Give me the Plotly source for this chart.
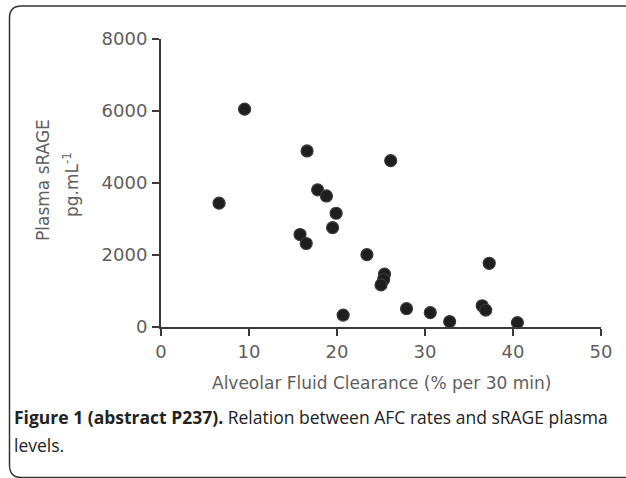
import plotly.graph_objects as go

# Data
afc = [6.6, 9.5, 16.6, 26.1, 17.8, 18.8, 19.9, 19.5, 15.8, 16.5, 23.4,
       25.4, 25.3, 25.0, 20.7, 27.9, 30.6, 32.8, 37.3, 36.5, 36.9, 40.5]
srage = [3440, 6050, 4890, 4620, 3810, 3640, 3160, 2760, 2570, 2320, 2010,
         1470, 1320, 1170, 330, 510, 400, 150, 1770, 590, 470, 120]

x_ticks = [0, 10, 20, 30, 40, 50]
y_ticks = [0, 2000, 4000, 6000, 8000]

# plot area in pixels
L, R, T, B = 161, 601, 39, 327
W, H = 626, 478
pw, ph = R - L, B - T


def px(x):
    return (x - L) / pw


def py(y):
    return (B - y) / ph


GRAY = "#5e5e5e"
AXFONT = "DejaVu Sans, Arial, sans-serif"

fig = go.Figure()
fig.add_trace(go.Scatter(
    x=afc, y=srage, mode="markers",
    marker=dict(size=12, color="#1e1e1e", line=dict(width=1.2, color="#3a3a3a")),
    cliponaxis=False, showlegend=False, hoverinfo="x+y",
))

axis_common = dict(
    showline=True, linewidth=2, linecolor="#3a3a3a",
    ticks="outside", ticklen=7, tickwidth=2, tickcolor="#3a3a3a",
    showgrid=False, zeroline=False,
    tickfont=dict(family=AXFONT, size=18, color=GRAY),
)

fig.update_xaxes(range=[0, 50], tickvals=x_ticks, ticktext=[str(v) for v in x_ticks], **axis_common)
fig.update_yaxes(range=[0, 8000], tickvals=y_ticks, ticktext=[str(v) for v in y_ticks],
                 ticklabelstandoff=1, **axis_common)

# rounded frame (open on the right)
x0, y0 = px(9.5), py(6)
x1 = px(660)
y1 = py(477.5)
rx, ry = 12 / pw, 12 / ph
path = (f"M {x1} {y0} L {x0 + rx} {y0} Q {x0} {y0} {x0} {y0 - ry} "
        f"L {x0} {y1 + ry} Q {x0} {y1} {x0 + rx} {y1} L {x1} {y1}")

fig.update_layout(
    width=W, height=H,
    margin=dict(l=L, r=W - R, t=T, b=H - B),
    paper_bgcolor="white", plot_bgcolor="white",
    shapes=[dict(type="path", xref="paper", yref="paper", path=path,
                 line=dict(color="#333333", width=1.5))],
    annotations=[
        dict(text="Plasma sRAGE", xref="paper", yref="paper",
             x=px(43), y=py(180), textangle=-90, showarrow=False,
             font=dict(family=AXFONT, size=17, color=GRAY),
             xanchor="center", yanchor="middle"),
        dict(text="pg.mL<sup>-1</sup>", xref="paper", yref="paper",
             x=px(71), y=py(185), textangle=-90, showarrow=False,
             font=dict(family=AXFONT, size=17, color=GRAY),
             xanchor="center", yanchor="middle"),
        dict(text="Alveolar Fluid Clearance (% per 30 min)", xref="paper", yref="paper",
             x=px(381), y=py(383), showarrow=False,
             font=dict(family=AXFONT, size=17, color=GRAY),
             xanchor="center", yanchor="middle"),
        dict(text="<b>Figure 1 (abstract P237).</b> Relation between AFC rates and sRAGE plasma",
             xref="paper", yref="paper", x=px(12), y=py(417), showarrow=False,
             font=dict(family="Open Sans, sans-serif", size=17.5, color="#222222"),
             xanchor="left", yanchor="middle", align="left"),
        dict(text="levels.",
             xref="paper", yref="paper", x=px(12), y=py(445), showarrow=False,
             font=dict(family="Open Sans, sans-serif", size=17.5, color="#222222"),
             xanchor="left", yanchor="middle", align="left"),
    ],
)

fig.write_html("out.html", config={"displayModeBar": False},
               post_script="document.body.style.margin='0';document.body.style.overflow='hidden';")
